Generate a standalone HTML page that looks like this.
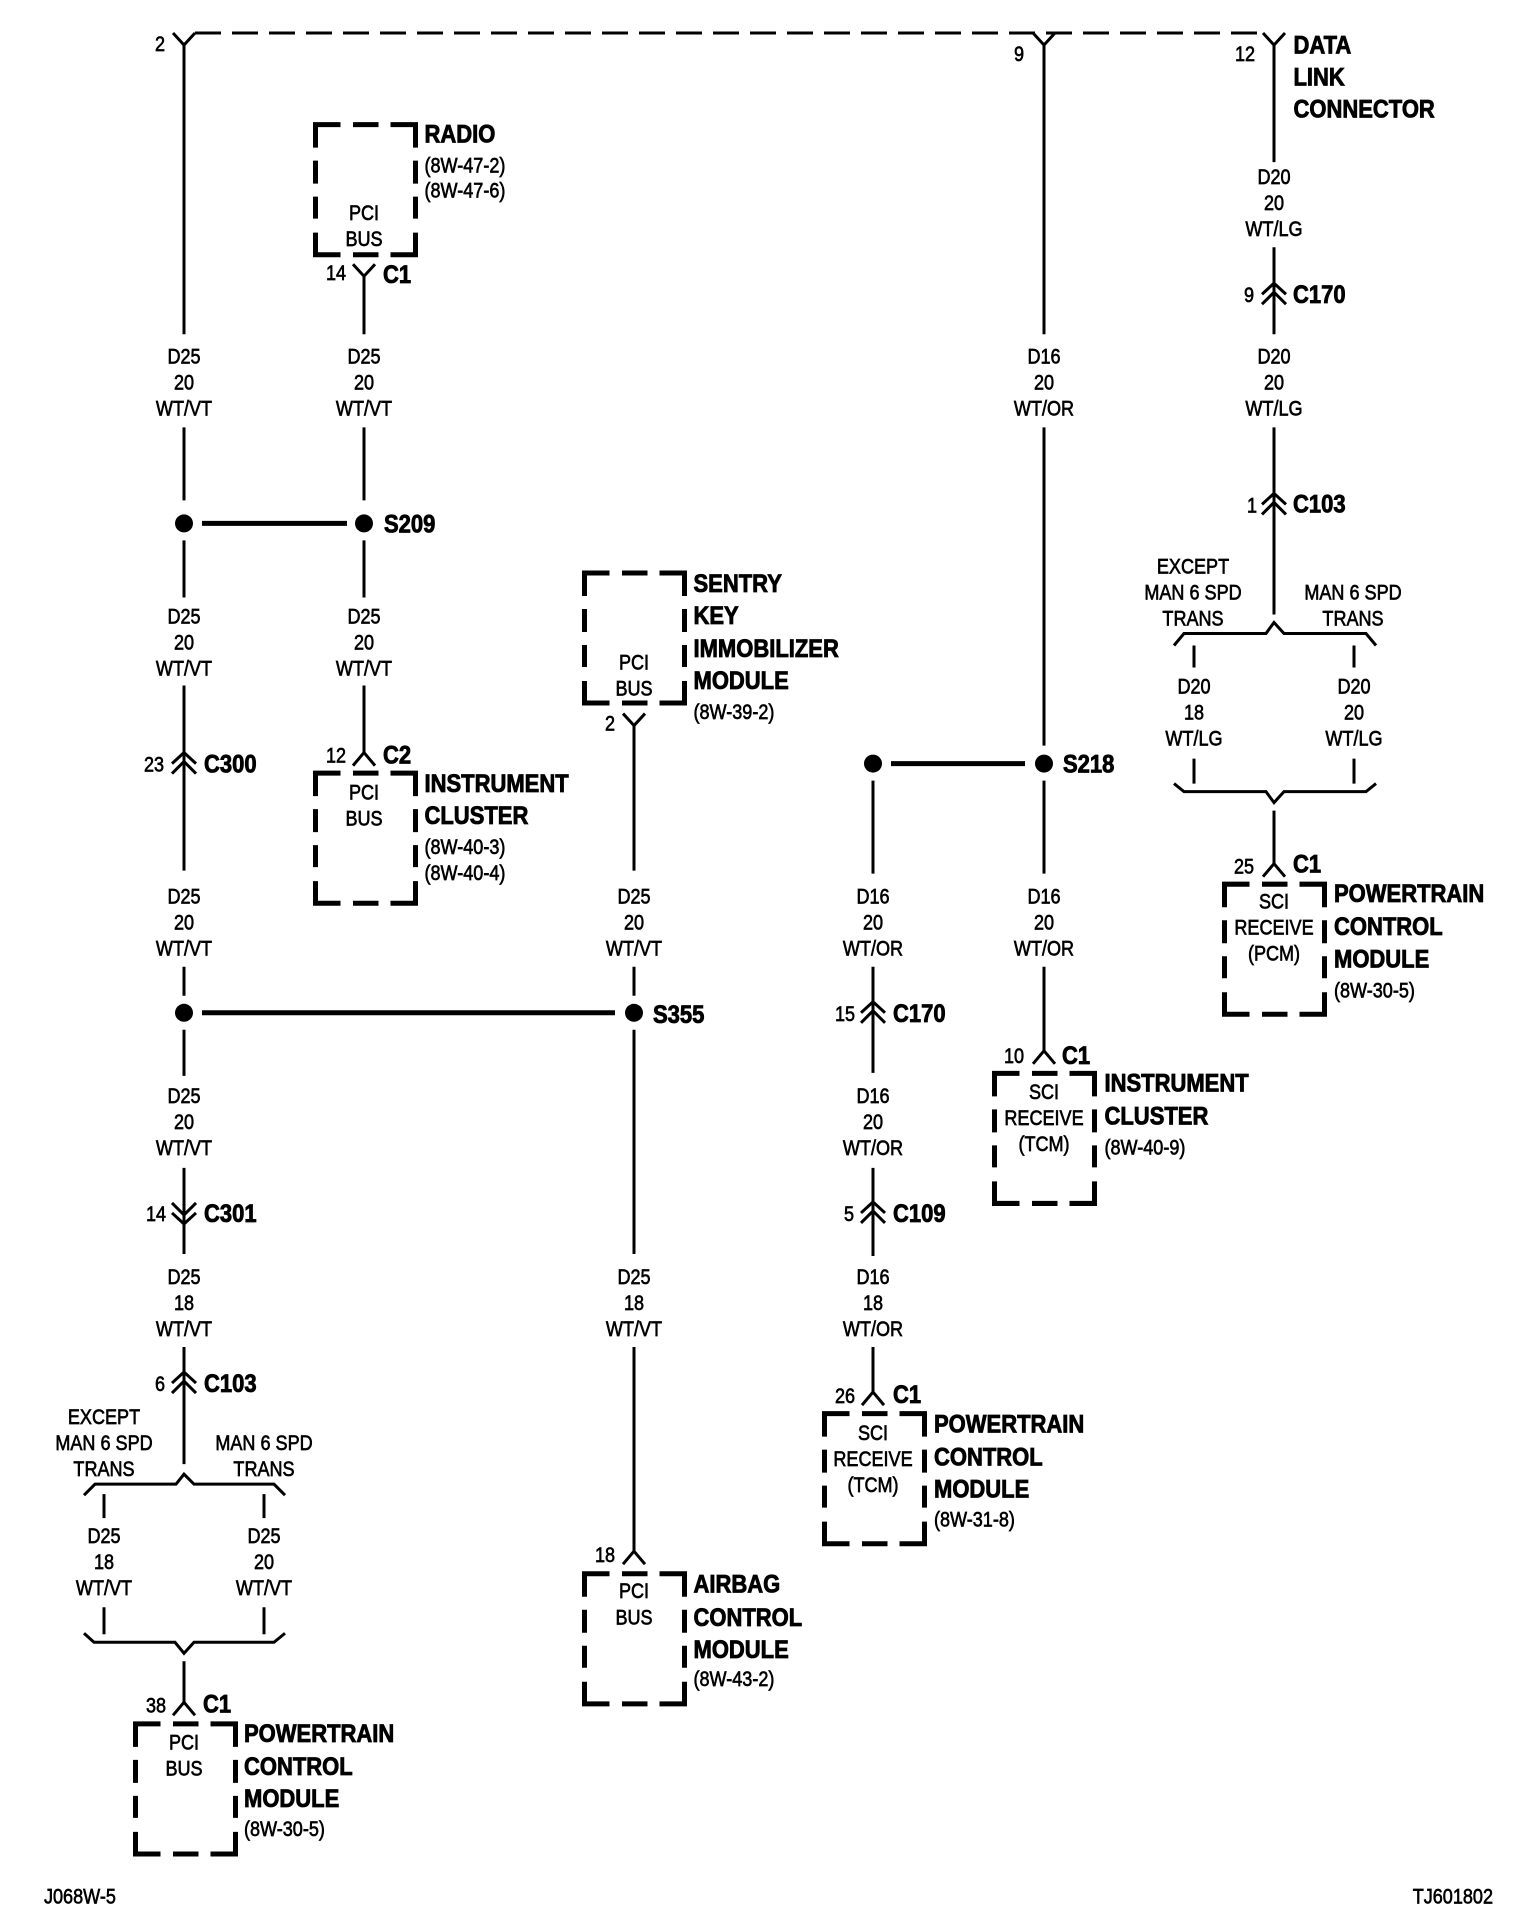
<!DOCTYPE html>
<html><head><meta charset="utf-8"><style>
html,body{margin:0;padding:0;background:#fff}
svg{display:block}
text{font-family:"Liberation Sans",sans-serif;font-size:21px;fill:#000;stroke:#000;stroke-width:.65}
.m text,text.m{text-anchor:middle}
.b{font-weight:bold;font-size:25px;stroke-width:.85}
.l{fill:none;stroke:#000;stroke-width:3}
.t{fill:none;stroke:#000;stroke-width:5}
</style></head><body>
<svg width="1520" height="1928" viewBox="-1 0 1520 1926.5" preserveAspectRatio="none" xmlns="http://www.w3.org/2000/svg">
<defs>
<path id="box" class="t" transform="translate(1.5 1.5)" d="M0,23V0H25M37.5,0H63M75,0H100V23M0,36V59M0,72V94M0,108V130H25M37.5,130H63M75,130H100V108M100,36V59M100,72V94"/>
<path id="up" class="l" d="M-11,13L0,0L11,13"/>
<path id="dn" class="l" d="M-11,-12L0,0L11,-12"/>
<path id="cu" class="l" d="M-12,0L0,-11L12,0M-12,10L0,-2L12,10"/>
<path id="cd" class="l" d="M-12,0L0,11L12,0M-12,-10L0,2L12,-10"/>
</defs>
<rect x="-1" width="1520" height="1928" fill="#fff"/>

<!-- dashed bus -->
<path class="l" d="M194,33H1262" stroke-dasharray="26 11"/>

<!-- forks at top -->
<use href="#dn" x="183" y="45"/><use href="#dn" x="1043" y="45"/><use href="#dn" x="1273" y="45"/>
<use href="#dn" x="363" y="276"/><use href="#dn" x="633" y="725"/>
<use href="#up" x="363" y="752"/><use href="#up" x="633" y="1550"/><use href="#up" x="183" y="1701"/>
<use href="#up" x="872" y="1391"/><use href="#up" x="1043" y="1050"/><use href="#up" x="1273" y="863"/>

<!-- chevrons -->
<use href="#cu" x="183" y="763"/><use href="#cd" x="183" y="1212"/><use href="#cu" x="183" y="1382"/>
<use href="#cu" x="872" y="1012"/><use href="#cu" x="872" y="1212"/>
<use href="#cu" x="1273" y="294"/><use href="#cu" x="1273" y="504"/>

<!-- wires -->
<path class="l" d="M183,45V334M183,427V500M183,540V597M183,685V870M183,966V995M183,1029V1075M183,1167V1253M183,1346V1463
M103,1493V1517M103,1606V1633M263,1493V1517M263,1606V1633M183,1660V1701
M363,276V334M363,427V500M363,540V597M363,685V752
M633,725V870M633,966V995M633,1029V1253M633,1346V1550
M872,780V873M872,966V1072M872,1167V1255M872,1346V1391
M1043,45V334M1043,427V745M1043,780V873M1043,966V1050
M1273,45V162M1273,247V334M1273,427V614M1193,645V667M1193,758V783M1353,645V667M1353,758V783M1273,810V863"/>
<!-- braces -->
<path class="l" d="M83,1494L94,1483H175L183,1473L193,1483H273L284,1494"/>
<path class="l" d="M83,1632L93,1641H174L183,1652L193,1641H273L284,1632"/>
<path class="l" d="M1173,645L1183,633H1265L1273,622L1283,633H1365L1375,645"/>
<path class="l" d="M1173,783L1183,791H1265L1273,802L1283,791H1365L1375,783"/>

<!-- splices -->
<circle cx="183" cy="523" r="9"/><circle cx="363" cy="523" r="9"/>
<circle cx="183" cy="1012" r="9"/><circle cx="633" cy="1012" r="9"/>
<circle cx="872" cy="763" r="9"/><circle cx="1043" cy="763" r="9"/>
<path class="t" d="M201,523H346M201,1012H614M890,763H1024"/>

<!-- boxes -->
<use href="#box" x="313" y="123"/><use href="#box" x="313" y="771"/>
<use href="#box" x="582" y="571"/><use href="#box" x="582" y="1571"/>
<use href="#box" x="133" y="1721"/><use href="#box" x="992" y="1071"/>
<use href="#box" x="822" y="1411"/><use href="#box" x="1222" y="882"/>

<!-- wire labels -->
<g class="m" transform="translate(183 363) scale(.86 1)"><text>D25</text><text y="26">20</text><text y="52">WT/VT</text></g>
<g class="m" transform="translate(363 363) scale(.86 1)"><text>D25</text><text y="26">20</text><text y="52">WT/VT</text></g>
<g class="m" transform="translate(1043 363) scale(.86 1)"><text>D16</text><text y="26">20</text><text y="52">WT/OR</text></g>
<g class="m" transform="translate(1273 363) scale(.86 1)"><text>D20</text><text y="26">20</text><text y="52">WT/LG</text></g>
<g class="m" transform="translate(1273 184) scale(.86 1)"><text>D20</text><text y="26">20</text><text y="52">WT/LG</text></g>
<g class="m" transform="translate(183 623) scale(.86 1)"><text>D25</text><text y="26">20</text><text y="52">WT/VT</text></g>
<g class="m" transform="translate(363 623) scale(.86 1)"><text>D25</text><text y="26">20</text><text y="52">WT/VT</text></g>
<g class="m" transform="translate(183 903) scale(.86 1)"><text>D25</text><text y="26">20</text><text y="52">WT/VT</text></g>
<g class="m" transform="translate(633 903) scale(.86 1)"><text>D25</text><text y="26">20</text><text y="52">WT/VT</text></g>
<g class="m" transform="translate(872 903) scale(.86 1)"><text>D16</text><text y="26">20</text><text y="52">WT/OR</text></g>
<g class="m" transform="translate(1043 903) scale(.86 1)"><text>D16</text><text y="26">20</text><text y="52">WT/OR</text></g>
<g class="m" transform="translate(183 1102) scale(.86 1)"><text>D25</text><text y="26">20</text><text y="52">WT/VT</text></g>
<g class="m" transform="translate(872 1102) scale(.86 1)"><text>D16</text><text y="26">20</text><text y="52">WT/OR</text></g>
<g class="m" transform="translate(183 1283) scale(.86 1)"><text>D25</text><text y="26">18</text><text y="52">WT/VT</text></g>
<g class="m" transform="translate(633 1283) scale(.86 1)"><text>D25</text><text y="26">18</text><text y="52">WT/VT</text></g>
<g class="m" transform="translate(872 1283) scale(.86 1)"><text>D16</text><text y="26">18</text><text y="52">WT/OR</text></g>
<g class="m" transform="translate(103 1542) scale(.86 1)"><text>D25</text><text y="26">18</text><text y="52">WT/VT</text></g>
<g class="m" transform="translate(263 1542) scale(.86 1)"><text>D25</text><text y="26">20</text><text y="52">WT/VT</text></g>
<g class="m" transform="translate(1193 693) scale(.86 1)"><text>D20</text><text y="26">18</text><text y="52">WT/LG</text></g>
<g class="m" transform="translate(1353 693) scale(.86 1)"><text>D20</text><text y="26">20</text><text y="52">WT/LG</text></g>

<!-- option labels -->
<g class="m" transform="translate(1192 573) scale(.86 1)"><text>EXCEPT</text><text y="26">MAN 6 SPD</text><text y="52">TRANS</text></g>
<g class="m" transform="translate(1352 599) scale(.86 1)"><text>MAN 6 SPD</text><text y="26">TRANS</text></g>
<g class="m" transform="translate(103 1423) scale(.86 1)"><text>EXCEPT</text><text y="26">MAN 6 SPD</text><text y="52">TRANS</text></g>
<g class="m" transform="translate(263 1449) scale(.86 1)"><text>MAN 6 SPD</text><text y="26">TRANS</text></g>

<!-- inside boxes -->
<g class="m" transform="translate(363 220) scale(.86 1)"><text>PCI</text><text y="26">BUS</text></g>
<g class="m" transform="translate(363 799) scale(.86 1)"><text>PCI</text><text y="26">BUS</text></g>
<g class="m" transform="translate(633 669) scale(.86 1)"><text>PCI</text><text y="26">BUS</text></g>
<g class="m" transform="translate(633 1597) scale(.86 1)"><text>PCI</text><text y="26">BUS</text></g>
<g class="m" transform="translate(183 1748) scale(.86 1)"><text>PCI</text><text y="26">BUS</text></g>
<g class="m" transform="translate(1043 1098) scale(.86 1)"><text>SCI</text><text y="26">RECEIVE</text><text y="52">(TCM)</text></g>
<g class="m" transform="translate(872 1439) scale(.86 1)"><text>SCI</text><text y="26">RECEIVE</text><text y="52">(TCM)</text></g>
<g class="m" transform="translate(1273 908) scale(.86 1)"><text>SCI</text><text y="26">RECEIVE</text><text y="52">(PCM)</text></g>

<!-- pin numbers -->
<g class="m">
<text transform="translate(159 51) scale(.86 1)">2</text>
<text transform="translate(1018 61) scale(.86 1)">9</text>
<text transform="translate(1244 61) scale(.86 1)">12</text>
<text transform="translate(335 280) scale(.86 1)">14</text>
<text transform="translate(335 762) scale(.86 1)">12</text>
<text transform="translate(609 730) scale(.86 1)">2</text>
<text transform="translate(604 1561) scale(.86 1)">18</text>
<text transform="translate(153 771) scale(.86 1)">23</text>
<text transform="translate(155 1220) scale(.86 1)">14</text>
<text transform="translate(159 1390) scale(.86 1)">6</text>
<text transform="translate(155 1711) scale(.86 1)">38</text>
<text transform="translate(844 1020) scale(.86 1)">15</text>
<text transform="translate(848 1220) scale(.86 1)">5</text>
<text transform="translate(844 1402) scale(.86 1)">26</text>
<text transform="translate(1013 1062) scale(.86 1)">10</text>
<text transform="translate(1248 302) scale(.86 1)">9</text>
<text transform="translate(1251 512) scale(.86 1)">1</text>
<text transform="translate(1243 873) scale(.86 1)">25</text>
</g>

<!-- connector names -->
<text class="b" transform="translate(382 283) scale(.88 1)">C1</text>
<text class="b" transform="translate(382 763) scale(.88 1)">C2</text>
<text class="b" transform="translate(202 1711) scale(.88 1)">C1</text>
<text class="b" transform="translate(892 1402) scale(.88 1)">C1</text>
<text class="b" transform="translate(1061 1063) scale(.88 1)">C1</text>
<text class="b" transform="translate(1292 872) scale(.88 1)">C1</text>
<text class="b" transform="translate(383 532) scale(.88 1)">S209</text>
<text class="b" transform="translate(652 1022) scale(.88 1)">S355</text>
<text class="b" transform="translate(1062 772) scale(.88 1)">S218</text>
<text class="b" transform="translate(203 772) scale(.88 1)">C300</text>
<text class="b" transform="translate(203 1221) scale(.88 1)">C301</text>
<text class="b" transform="translate(203 1391) scale(.88 1)">C103</text>
<text class="b" transform="translate(892 1021) scale(.88 1)">C170</text>
<text class="b" transform="translate(892 1221) scale(.88 1)">C109</text>
<text class="b" transform="translate(1292 303) scale(.88 1)">C170</text>
<text class="b" transform="translate(1292 512) scale(.88 1)">C103</text>

<!-- component names -->
<g transform="translate(1.5 .5)">
<g transform="translate(1291 53) scale(.88 1)"><text class="b">DATA</text><text class="b" y="32">LINK</text><text class="b" y="64">CONNECTOR</text></g>
<g transform="translate(422 142) scale(.88 1)"><text class="b">RADIO</text></g>
<g transform="translate(422 172) scale(.86 1)"><text>(8W-47-2)</text><text y="25">(8W-47-6)</text></g>
<g transform="translate(422 791) scale(.88 1)"><text class="b">INSTRUMENT</text><text class="b" y="32">CLUSTER</text></g>
<g transform="translate(422 853) scale(.86 1)"><text>(8W-40-3)</text><text y="26">(8W-40-4)</text></g>
<g transform="translate(691 591) scale(.88 1)"><text class="b">SENTRY</text><text class="b" y="32">KEY</text><text class="b" y="65">IMMOBILIZER</text><text class="b" y="97">MODULE</text></g>
<text transform="translate(691 718) scale(.86 1)">(8W-39-2)</text>
<g transform="translate(691 1591) scale(.88 1)"><text class="b">AIRBAG</text><text class="b" y="33">CONTROL</text><text class="b" y="65">MODULE</text></g>
<text transform="translate(691 1684) scale(.86 1)">(8W-43-2)</text>
<g transform="translate(241.5 1740) scale(.88 1)"><text class="b">POWERTRAIN</text><text class="b" y="33">CONTROL</text><text class="b" y="65">MODULE</text></g>
<text transform="translate(241.5 1834) scale(.86 1)">(8W-30-5)</text>
<g transform="translate(1102 1090) scale(.88 1)"><text class="b">INSTRUMENT</text><text class="b" y="33">CLUSTER</text></g>
<text transform="translate(1102 1153) scale(.86 1)">(8W-40-9)</text>
<g transform="translate(931.5 1431) scale(.88 1)"><text class="b">POWERTRAIN</text><text class="b" y="33">CONTROL</text><text class="b" y="65">MODULE</text></g>
<text transform="translate(931.5 1525) scale(.86 1)">(8W-31-8)</text>
<g transform="translate(1331.5 901) scale(.88 1)"><text class="b">POWERTRAIN</text><text class="b" y="33">CONTROL</text><text class="b" y="65">MODULE</text></g>
<text transform="translate(1331.5 996) scale(.86 1)">(8W-30-5)</text>
</g>

<!-- footer -->
<text transform="translate(43 1902) scale(.86 1)">J068W-5</text>
<text transform="translate(1492 1902) scale(.86 1)" style="text-anchor:end">TJ601802</text>
</svg>
</body></html>
